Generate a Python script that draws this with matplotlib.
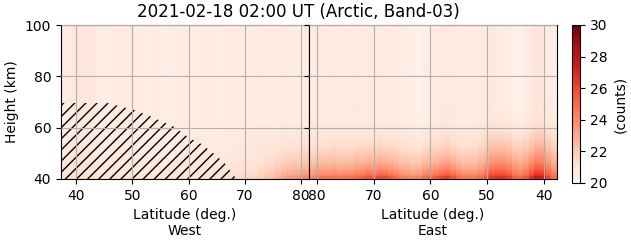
import numpy as np
import matplotlib
matplotlib.use("Agg")
import matplotlib.pyplot as plt

title = "2021-02-18 02:00 UT (Arctic, Band-03)"

# latitude cells (deg.), west side increasing, east side decreasing
west_lat = np.arange(38, 82)
east_lat = np.arange(81, 37, -1)
height_edges = np.arange(40, 101)

# upper background level (counts)
west_bg = [20.6, 20.7, 20.8, 20.9, 20.8, 20.8, 20.6, 20.5, 20.5, 20.6, 20.6,
           20.6, 20.7, 20.6, 20.6, 20.5, 20.6, 20.6, 20.4, 20.5, 20.6, 20.6,
           20.6, 20.5, 20.6, 20.6, 20.6, 20.6, 20.5, 20.6, 20.6, 20.6, 20.6,
           20.6, 20.6, 20.7, 20.6, 20.6, 20.6, 20.7, 20.6, 20.6, 20.5, 20.6]
east_bg = [20.6, 20.7, 20.6, 20.6, 20.7, 20.6, 20.6, 20.6, 20.7, 20.6, 20.6,
           20.6, 20.7, 20.6, 20.6, 20.6, 20.5, 20.5, 20.4, 20.3, 20.5, 20.6,
           20.6, 20.7, 20.8, 20.7, 20.6, 20.5, 20.6, 20.6, 20.6, 20.7, 20.7,
           20.6, 20.6, 20.5, 20.3, 20.3, 20.5, 20.7, 20.9, 20.8, 20.6, 20.4]

# enhancement at the bottom (counts above background)
west_near = [0.4, 0.4, 0.45, 0.45, 0.4, 0.4, 0.35, 0.35, 0.35, 0.4, 0.4,
             0.4, 0.4, 0.4, 0.35, 0.35, 0.4, 0.4, 0.45, 0.45, 0.45, 0.5,
             0.5, 0.5, 0.5, 0.55, 0.55, 0.6, 0.65, 0.7, 0.75, 0.8, 0.9,
             1.0, 1.1, 1.3, 1.5, 1.7, 2.0, 2.3, 2.6, 2.8, 3.0, 3.1]
west_broad = [0.0] * 36 + [0.1, 0.1, 0.2, 0.2, 0.3, 0.3, 0.3, 0.4]
east_near = [3.2, 3.5, 3.7, 3.7, 3.7, 3.6, 3.7, 3.8, 4.0, 4.3, 4.7,
             4.5, 4.8, 4.9, 4.4, 4.0, 3.6, 3.4, 3.3, 3.6, 4.0, 4.2,
             4.5, 4.9, 5.1, 4.6, 4.0, 3.7, 3.6, 3.6, 3.6, 3.8, 4.2,
             4.3, 4.1, 3.8, 3.2, 3.0, 3.4, 4.1, 4.6, 4.4, 3.4, 3.0]
east_broad = [0.4] * 30 + [0.8, 1.2, 1.6, 1.8, 1.9, 1.9, 1.8, 1.7, 1.7,
                           1.8, 2.0, 2.1, 2.0, 1.6]

# vertical shape of the enhancement, 1 km rows from 40 km
near_profile = [1.0, 0.86, 0.74, 0.64, 0.56, 0.49, 0.42, 0.36, 0.31, 0.27,
                0.23, 0.19, 0.16, 0.13, 0.10, 0.08, 0.06, 0.05, 0.04, 0.03,
                0.02, 0.01]
broad_profile = [1.0, 0.97, 0.94, 0.91, 0.88, 0.85, 0.81, 0.77, 0.73, 0.69,
                 0.65, 0.61, 0.57, 0.53, 0.49, 0.45, 0.40, 0.35, 0.30, 0.26,
                 0.22, 0.19, 0.16, 0.13, 0.10, 0.08, 0.06, 0.04, 0.02, 0.01]

# hatched (no data) area on the west side
hatch_lat = [37.3, 45.5, 50.3, 53.3, 57.4, 60.1, 62.3, 64.6, 66.4, 68.5]
hatch_top = [69.6, 69.6, 66.9, 64.3, 60.4, 56.0, 53.6, 49.7, 46.2, 40.0]


def make_grid(bg, near, broad):
    nrow = len(height_edges) - 1
    p1 = np.zeros(nrow)
    p1[:len(near_profile)] = near_profile
    p2 = np.zeros(nrow)
    p2[:len(broad_profile)] = broad_profile
    return (np.array(bg)[None, :] + np.array(near)[None, :] * p1[:, None]
            + np.array(broad)[None, :] * p2[:, None])


west_c = make_grid(west_bg, west_near, west_broad)
east_c = make_grid(east_bg, east_near, east_broad)
west_edges = np.linspace(37.3, 81.4, len(west_lat) + 1)
east_edges = np.linspace(81.45, 37.65, len(east_lat) + 1)

fig = plt.figure(figsize=(6.31, 2.43), dpi=100)
W, H = 631, 243
ax1 = fig.add_axes([61 / W, 1 - 179 / H, 248 / W, 154 / H])
ax2 = fig.add_axes([309 / W, 1 - 179 / H, 248 / W, 154 / H], sharey=ax1)
cax = fig.add_axes([572 / W, 1 - 183 / H, 8 / W, 158 / H])

m = ax1.pcolormesh(west_edges, height_edges, west_c, cmap="Reds", vmin=20, vmax=30)
ax2.pcolormesh(east_edges, height_edges, east_c, cmap="Reds", vmin=20, vmax=30)

ax1.fill_between(hatch_lat, 40, hatch_top, facecolor="none", edgecolor="k",
                 hatch="///", linewidth=0)

ax1.set_xlim(37.3, 81.4)
ax2.set_xlim(81.45, 37.65)
ax1.set_ylim(40, 100)
ax1.set_xticks([40, 50, 60, 70, 80])
ax2.set_xticks([80, 70, 60, 50, 40])
ax1.set_yticks([40, 60, 80, 100])
ax2.tick_params(labelleft=False)
for ax in (ax1, ax2):
    ax.grid(True)
    ax.set_axisbelow(False)
ax1.set_xlabel("Latitude (deg.)\nWest")
ax2.set_xlabel("Latitude (deg.)\nEast")
ax1.set_ylabel("Height (km)")

cb = fig.colorbar(m, cax=cax, ticks=[20, 22, 24, 26, 28, 30])
cb.set_label("(counts)")

fig.text(298 / W, 1 - 12 / H, title, ha="center", va="center", fontsize=12)

fig.savefig("out.png", dpi=100)
